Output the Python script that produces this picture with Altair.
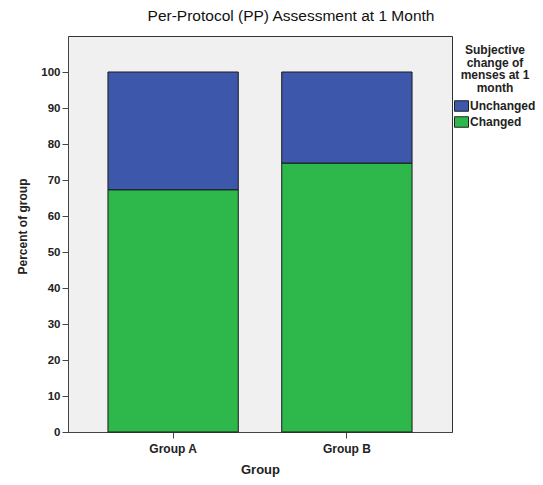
import altair as alt
import pandas as pd

groups = ["Group A", "Group A", "Group B", "Group B"]
responses = ["Changed", "Unchanged", "Changed", "Unchanged"]
percents = [67.3, 32.7, 74.7, 25.3]
stack_order = [0, 1, 0, 1]

df = pd.DataFrame({"Group": groups, "Response": responses,
                   "Percent": percents, "ord": stack_order})

FONT = "Liberation Sans"

chart = alt.Chart(df).mark_bar(stroke="#1a1a1a", strokeWidth=1).encode(
    x=alt.X("Group:N",
            scale=alt.Scale(paddingInner=0.25, paddingOuter=0.23),
            axis=alt.Axis(title="Group", labelAngle=0, labelFont=FONT,
                          labelFontSize=12, labelFontWeight="bold",
                          labelColor="#222", labelPadding=5,
                          titleFont=FONT, titleFontSize=13,
                          titleFontWeight="bold", titleColor="#222",
                          titlePadding=9,
                          tickSize=6, tickColor="#444",
                          domainColor="#444")),
    y=alt.Y("Percent:Q", stack="zero",
            scale=alt.Scale(domain=[0, 110], nice=False),
            axis=alt.Axis(title="Percent of group",
                          values=list(range(0, 101, 10)),
                          grid=False, labelFont=FONT, labelFontSize=11.5,
                          labelFontWeight="bold", labelColor="#222",
                          labelPadding=2, tickSize=6, tickColor="#444",
                          domainColor="#444", titleFont=FONT,
                          titleFontSize=12, titleFontWeight="bold",
                          titleColor="#222", titleX=-46, titleY=190,
                          titleAngle=-90, titleAlign="center",
                          titleBaseline="middle")),
    color=alt.Color("Response:N",
                    scale=alt.Scale(domain=["Unchanged", "Changed"],
                                    range=["#3D57AB", "#2EB84B"]),
                    legend=alt.Legend(
                        title=["Subjective", "change of", "menses at 1", "month"],
                        orient="none", legendX=386, legendY=9,
                        titleFont=FONT, titleFontSize=12,
                        titleFontWeight="bold", titleColor="#222",
                        titleAlign="center", titleAnchor="middle",
                        titleLineHeight=12.5, titlePadding=4,
                        labelFont=FONT, labelFontSize=12,
                        labelFontWeight="bold", labelColor="#222",
                        labelOffset=1,
                        symbolType="M-1,-0.75H1V0.75H-1Z", symbolSize=196,
                        symbolStrokeColor="#222", symbolStrokeWidth=1,
                        symbolOpacity=1, rowPadding=1)),
    order=alt.Order("ord:Q"),
).properties(
    width=384, height=396,
    autosize=alt.AutoSizeParams(type="none"),
    padding={"left": 60, "top": 28, "right": 83, "bottom": 45},
    title=alt.Title("Per-Protocol (PP) Assessment at 1 Month",
                    font=FONT, fontSize=15.5, fontWeight="normal",
                    color="#111", anchor="middle", dx=31,
                    baseline="alphabetic", offset=0),
).configure_view(
    fill="#F0F0F0", stroke="#333", strokeWidth=1
)

chart.save("out.html", embed_options={"renderer": "svg", "actions": False})
